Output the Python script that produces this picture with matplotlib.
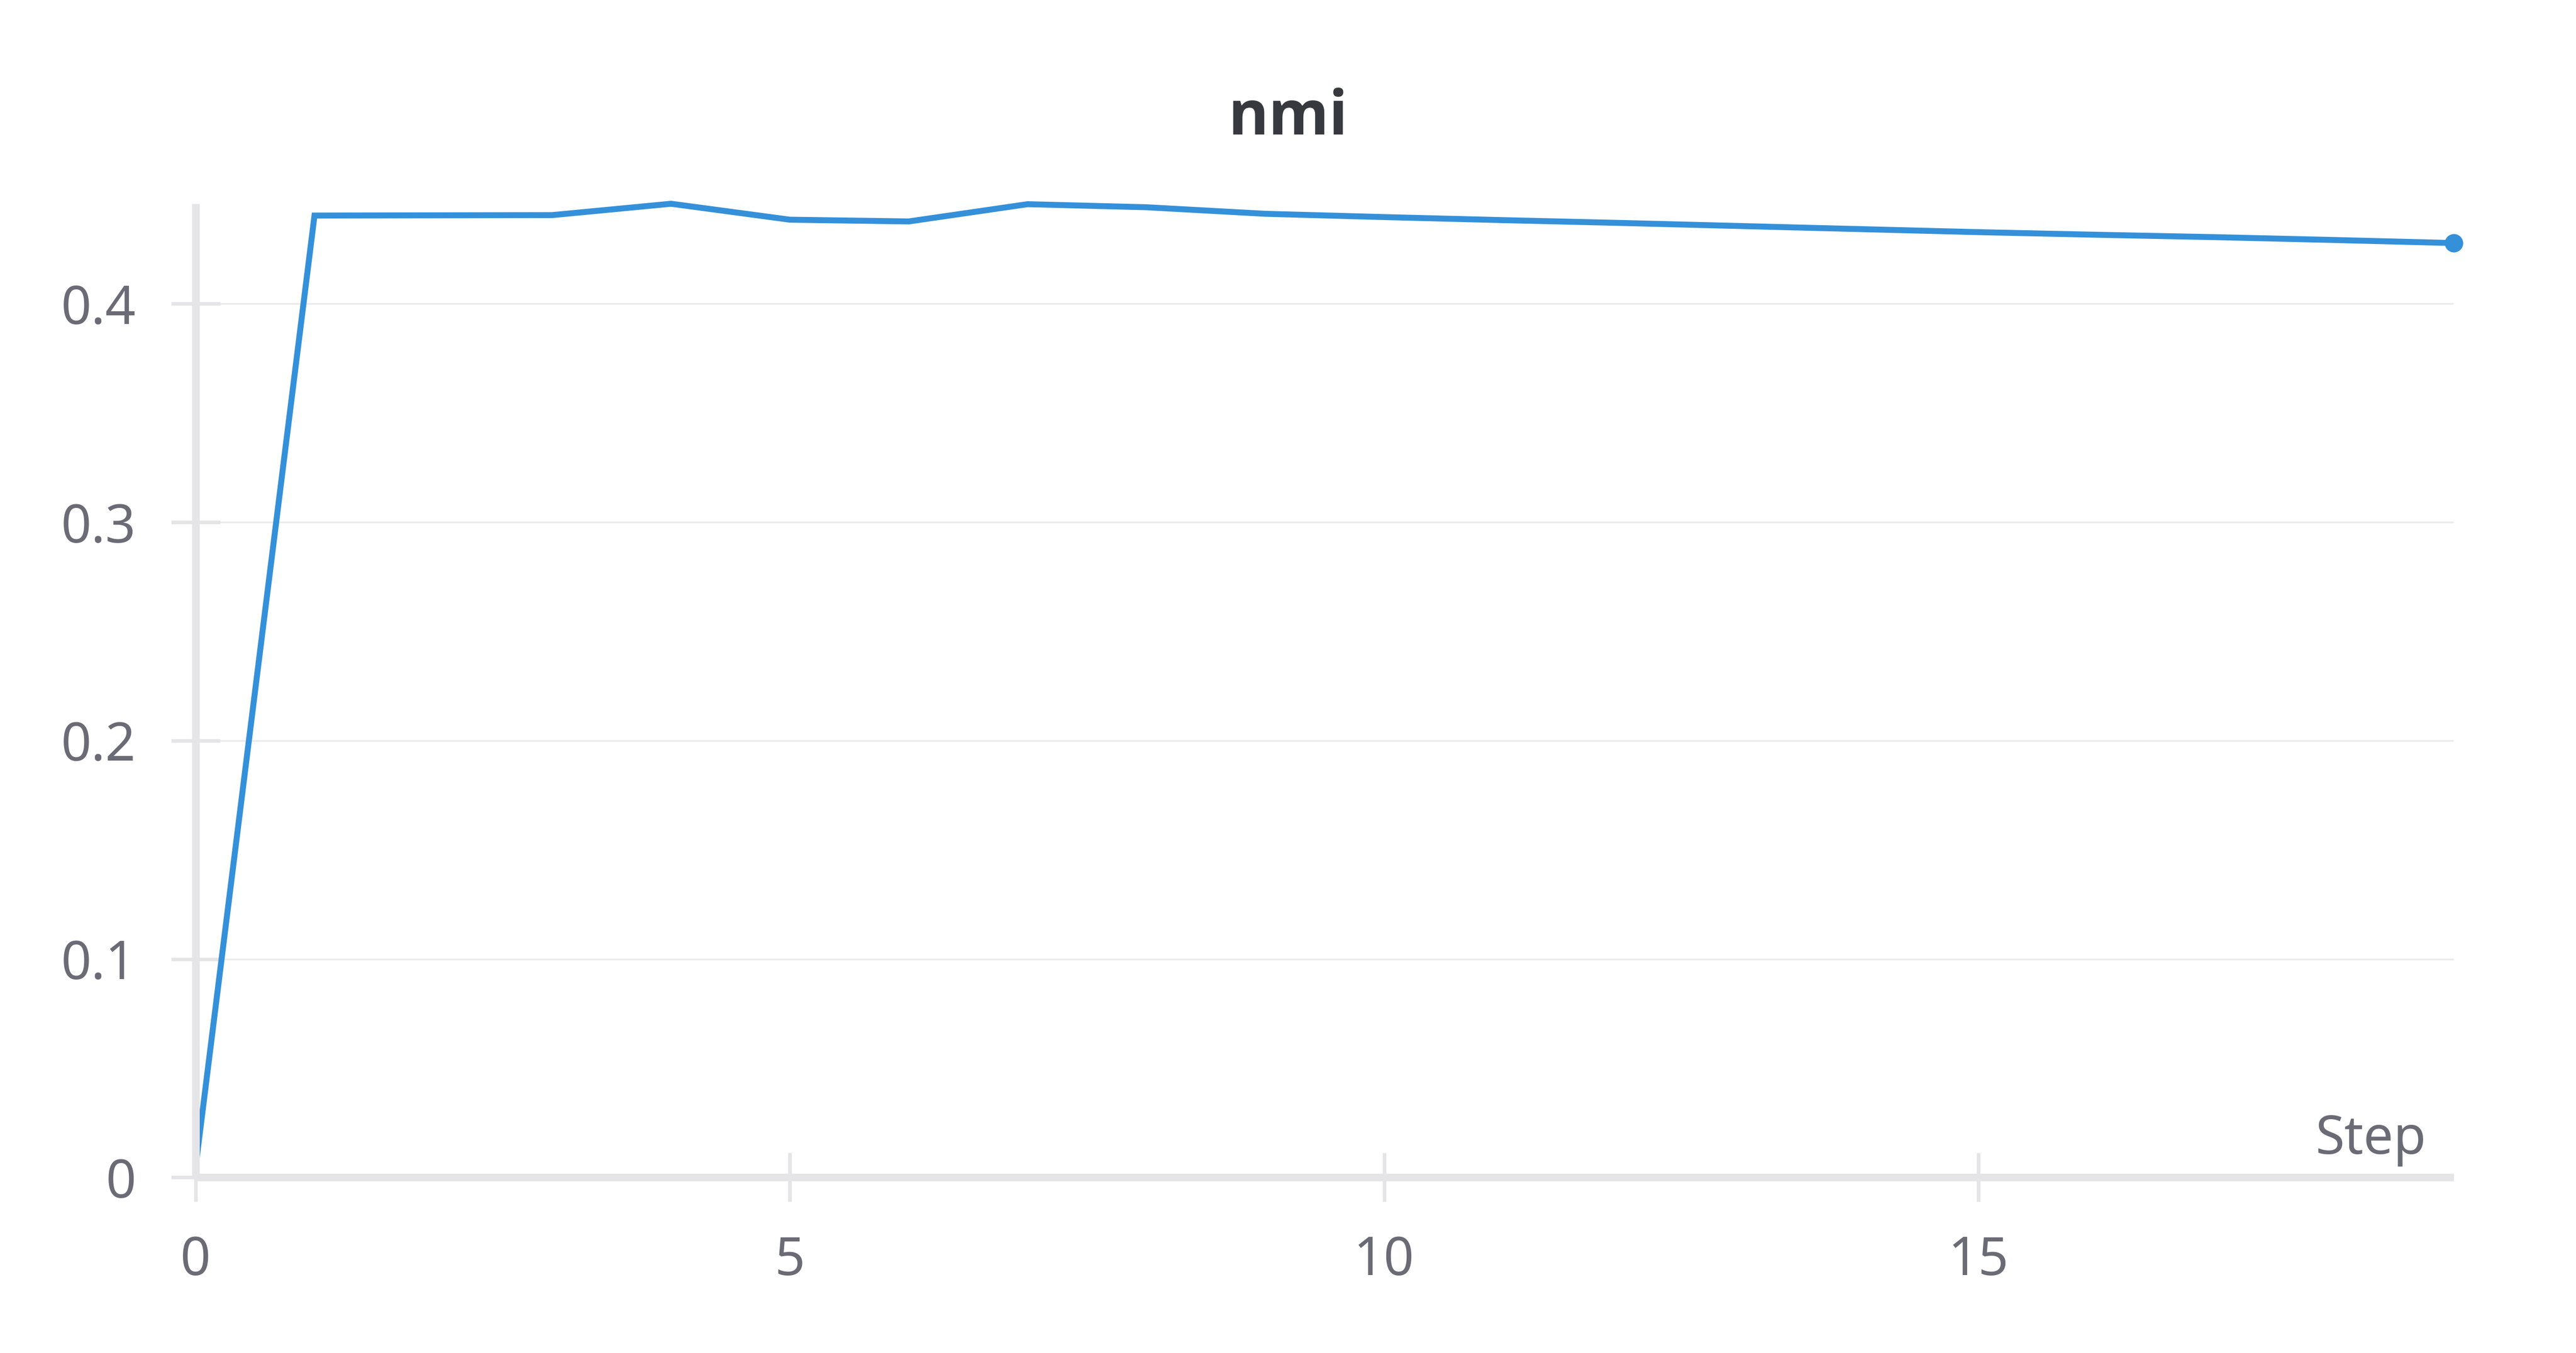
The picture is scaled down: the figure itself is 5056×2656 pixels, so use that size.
import matplotlib
matplotlib.use("Agg")
import matplotlib.pyplot as plt

# data
steps = list(range(20))
nmi = [0.005, 0.4404, 0.4405, 0.4406, 0.4458, 0.4385, 0.4377, 0.4456, 0.4442, 0.4412,
       0.4397, 0.4383, 0.4370, 0.4356, 0.4342, 0.4328, 0.4316, 0.4305, 0.4292, 0.4278]
x_ticks = [0, 5, 10, 15]
y_ticks = [0, 0.1, 0.2, 0.3, 0.4]
y_tick_labels = ["0", "0.1", "0.2", "0.3", "0.4"]

line_color = "#3590da"
axis_color = "#e5e5e7"
grid_color = "#ebebeb"
label_color = "#6b6b76"

plt.rcParams["font.family"] = ["Noto Sans", "DejaVu Sans"]

fig = plt.figure(figsize=(25.28, 13.28), dpi=200, facecolor="white")
ax = fig.add_axes([0.07595, 0.12971, 0.87658, 0.7197])

ax.plot(steps, nmi, color=line_color, lw=4.2, solid_joinstyle="miter", clip_on=False, zorder=2)
ax.plot(steps[-1], nmi[-1], "o", color=line_color, ms=13, mew=0, clip_on=False, zorder=3)

ax.set_xlim(0, 19)
ax.set_ylim(0, 0.4458)

for side in ["top", "right"]:
    ax.spines[side].set_visible(False)
for side in ["left", "bottom"]:
    ax.spines[side].set_color(axis_color)
    ax.spines[side].set_linewidth(5.4)
    ax.spines[side].set_capstyle("butt")
    ax.spines[side].set_zorder(2.5)

ax.set_xticks(x_ticks)
ax.set_xticklabels([str(t) for t in x_ticks])
ax.set_yticks(y_ticks)
ax.set_yticklabels(y_tick_labels)
ax.tick_params(axis="both", direction="inout", length=34.2, width=2.5, color=axis_color,
               labelsize=37.5, labelcolor=label_color)
ax.tick_params(axis="y", pad=25)
ax.tick_params(axis="x", pad=23.5)

ax.yaxis.grid(True, color=grid_color, lw=1.25)
ax.set_axisbelow(True)

ax.annotate("Step", xy=(1, 0), xycoords="axes fraction", xytext=(-19.4, 16.7),
            textcoords="offset points", ha="right", va="baseline",
            fontsize=37.5, color=label_color)

fig.text(0.5, 1 - 264 / 2656, "nmi", ha="center", va="baseline",
         fontsize=43.5, fontweight="bold", color="#36393d",
         family=["Open Sans", "Lato", "Roboto", "DejaVu Sans"])

fig.savefig("out.png", dpi=200, facecolor="white")
